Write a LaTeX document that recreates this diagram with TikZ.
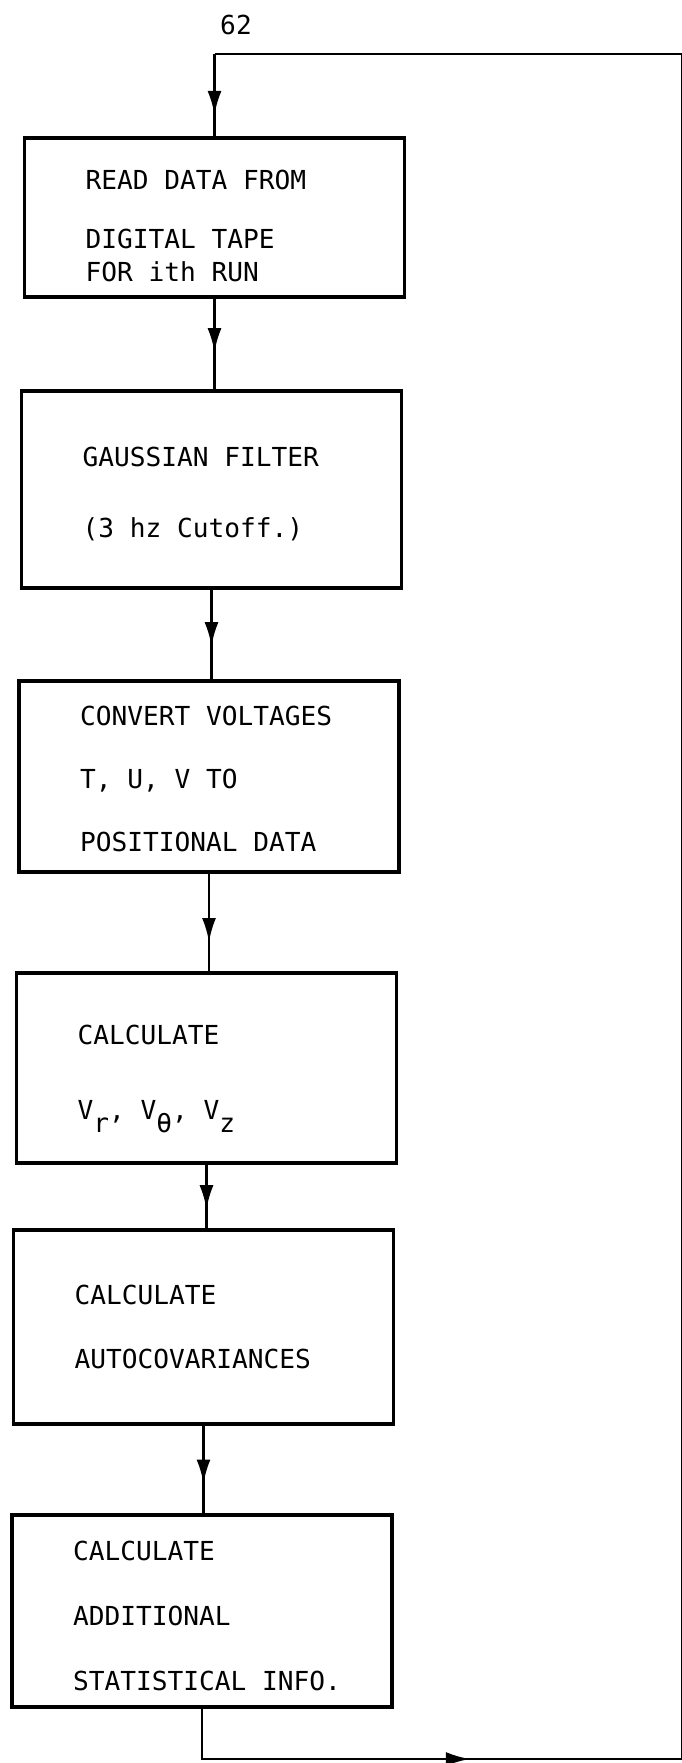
\documentclass[tikz,border=0pt]{standalone}
\usepackage{fontspec}
\setmainfont{DejaVu Sans Mono}
\usetikzlibrary{arrows.meta,decorations.markings}
\newcommand{\flowfont}{\fontsize{14.9}{36}\selectfont}

\begin{document}
\begin{tikzpicture}[x=0.02cm,y=-0.02cm,
		typed/.style={font=\flowfont},
		stepbox/.style={draw,typed,line width=2pt,rectangle,minimum width=7.6cm,text width=5.16cm,inner xsep=1.22cm,align=flush left,execute at begin node={\spaceskip=8.97pt\relax}},
		flow/.style={line width=1.5pt},
		midarrow/.style={flow,postaction={decorate},decoration={markings,mark=at position #1 with {\arrow{Latex[length=0.48cm,width=0.28cm]}}}}]
		\useasboundingbox (0,0) rectangle (682,1763);
		\node[typed] (pagenum) at (236,25) {62};
		
		\node[stepbox,minimum height=3.18cm] (read) at (214.5,217.5) {\rule{0pt}{21pt}READ DATA FROM\\[-2.5pt] DIGITAL TAPE\\[-17pt] FOR ith RUN};
		\node[stepbox,minimum height=3.94cm] (filter) at (211.5,489.5) {\rule{0pt}{16pt}GAUSSIAN FILTER\\[4.3pt] (3 hz Cutoff.)};
		\node[stepbox,minimum height=3.82cm] (convert) at (209,776.5) {\rule{0pt}{14pt}CONVERT VOLTAGES\\ T, U, V TO\\ POSITIONAL DATA};
		\node[stepbox,minimum height=3.8cm] (velo) at (206.5,1068) {\rule{0pt}{23.5pt}CALCULATE\\[7pt] V\raisebox{-0.9ex}{r}, V\raisebox{-0.9ex}{θ}, V\raisebox{-0.9ex}{z}};
		\node[stepbox,minimum height=3.88cm] (autocov) at (203.5,1327) {CALCULATE\\ AUTOCOVARIANCES};
		\node[stepbox,minimum height=3.84cm] (stats) at (202,1611) {\rule{0pt}{16.5pt}CALCULATE\\[1pt] ADDITIONAL\\[1pt] STATISTICAL~INFO.};
		
		\draw[midarrow=0.59] (read.south) -- (read.south |- filter.north);
		\draw[midarrow=0.63] (filter.south) -- (filter.south |- convert.north);
		\draw[midarrow=0.7] (convert.south) -- (convert.south |- velo.north);
		\draw[midarrow=0.7] (velo.south) -- (velo.south |- autocov.north);
		\draw[midarrow=0.66] (autocov.south) -- (autocov.south |- stats.north);
		
		% loop back to the next run
		\coordinate (loopSE) at (682,1759);
		\coordinate (loopNE) at (682,54);
		\coordinate (loopNW) at (read.north |- loopNE);
		\draw[midarrow=0.6] (stats.south) |- (loopSE);
		\draw[flow] (loopSE) -- (loopNE) -- (loopNW);
		\draw[midarrow=0.74] (loopNW) -- (read.north);
	\end{tikzpicture}
\end{document}
